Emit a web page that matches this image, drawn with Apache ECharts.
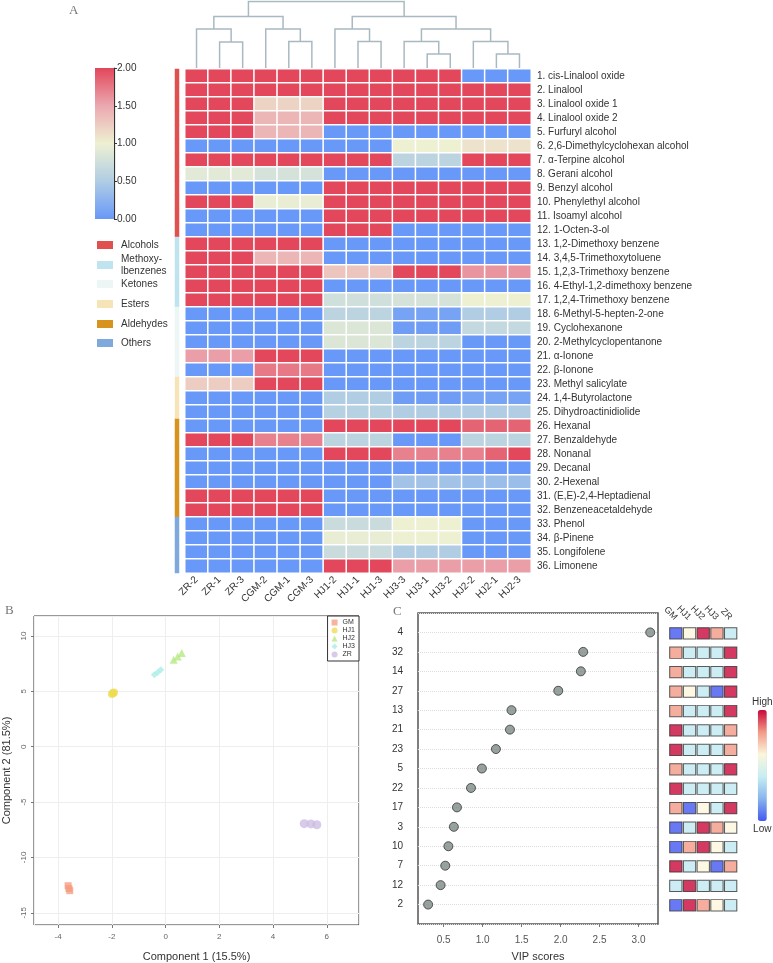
<!DOCTYPE html>
<html><head><meta charset="utf-8">
<script src="https://cdn.jsdelivr.net/npm/echarts@6/dist/echarts.min.js"></script>
<style>html,body{margin:0;padding:0;background:#fff}#c{width:773px;height:963px}</style>
</head><body><div id="c"></div>
<script>
// ---------- Panel A data ----------
const samples = ['ZR-2','ZR-1','ZR-3','CGM-2','CGM-1','CGM-3','HJ1-2','HJ1-1','HJ1-3','HJ3-3','HJ3-1','HJ3-2','HJ2-2','HJ2-1','HJ2-3'];
const compounds = ['1. cis-Linalool oxide','2. Linalool','3. Linalool oxide 1','4. Linalool oxide 2','5. Furfuryl alcohol',
 '6. 2,6-Dimethylcyclohexan alcohol','7. α-Terpine alcohol','8. Gerani alcohol','9. Benzyl alcohol','10. Phenylethyl alcohol',
 '11. Isoamyl alcohol','12. 1-Octen-3-ol','13. 1,2-Dimethoxy benzene','14. 3,4,5-Trimethoxytoluene','15. 1,2,3-Trimethoxy benzene',
 '16. 4-Ethyl-1,2-dimethoxy benzene','17. 1,2,4-Trimethoxy benzene','18. 6-Methyl-5-hepten-2-one','19. Cyclohexanone',
 '20. 2-Methylcyclopentanone','21. α-Ionone','22. β-Ionone','23. Methyl salicylate','24. 1,4-Butyrolactone',
 '25. Dihydroactinidiolide','26. Hexanal','27. Benzaldehyde','28. Nonanal','29. Decanal','30. 2-Hexenal',
 '31. (E,E)-2,4-Heptadienal','32. Benzeneacetaldehyde','33. Phenol','34. β-Pinene','35. Longifolene','36. Limonene'];
const heatValues = [
 [2,2,2,2,2,2,2,2,2,2,2,2,0,0,0],
 [2,2,2,2,2,2,2,2,2,2,2,2,2,2,2],
 [2,2,2,1.2,1.2,1.2,2,2,2,2,2,2,2,2,2],
 [2,2,2,1.4,1.4,1.4,2,2,2,2,2,2,2,2,2],
 [2,2,2,1.4,1.4,1.4,0,0,0,0,0,0,0,0,0],
 [0,0,0,0,0,0,0,0,0,1.0,1.0,1.0,1.1,1.1,1.1],
 [2,2,2,2,2,2,2,2,2,0.6,0.6,0.6,2,2,2],
 [0.9,0.9,0.9,0.8,0.8,0.8,0,0,0,0,0,0,0,0,0],
 [0,0,0,0,0,0,2,2,2,2,2,2,2,2,2],
 [2,2,2,0.95,0.95,0.95,2,2,2,2,2,2,2,2,2],
 [0,0,0,0,0,0,2,2,2,2,2,2,2,2,2],
 [0,0,0,0,0,0,2,2,2,0,0,0,0,0,0],
 [2,2,2,2,2,2,0,0,0,0,0,0,0,0,0],
 [2,2,2,1.4,1.4,1.4,0,0,0,0,0,0,0,0,0],
 [2,2,2,2,2,2,1.3,1.3,1.3,2,2,2,1.6,1.6,1.6],
 [2,2,2,2,2,2,0,0,0,0,0,0,0,0,0],
 [2,2,2,2,2,2,0.75,0.75,0.75,0.8,0.8,0.8,1.0,1.0,1.0],
 [0,0,0,0,0,0,0.6,0.6,0.6,0.1,0.1,0.1,0.5,0.5,0.5],
 [0,0,0,0,0,0,0.85,0.85,0.85,0.05,0.05,0.05,0.65,0.65,0.65],
 [0,0,0,0,0,0,0.85,0.85,0.85,0.6,0.6,0.6,0,0,0],
 [1.55,1.55,1.55,2,2,2,0,0,0,0,0,0,0,0,0],
 [0,0,0,1.75,1.75,1.75,0,0,0,0,0,0,0,0,0],
 [1.25,1.25,1.25,2,2,2,0,0,0,0,0,0,0,0,0],
 [0,0,0,0,0,0,0.5,0.5,0.5,0.05,0.05,0.05,0.1,0.1,0.1],
 [0,0,0,0,0,0,0.55,0.55,0.55,0.5,0.5,0.5,0.5,0.5,0.5],
 [0,0,0,0,0,0,2,2,2,2,2,2,1.85,1.85,1.85],
 [2,2,2,1.7,1.7,1.7,0.6,0.6,0.6,0,0,0,0.6,0.6,0.6],
 [0,0,0,0,0,0,2,2,2,1.7,1.7,1.7,1.7,1.85,2],
 [0,0,0,0,0,0,0,0,0,0,0,0,0,0,0],
 [0,0,0,0,0,0,0,0,0,0.4,0.4,0.4,0.35,0.35,0.35],
 [2,2,2,2,2,2,0,0,0,0,0,0,0,0,0],
 [2,2,2,2,2,2,0,0,0,0,0,0,0,0,0],
 [0,0,0,0,0,0,0.7,0.7,0.7,1.0,1.0,1.0,0,0,0],
 [0,0,0,0,0,0,0.95,0.95,0.95,1.0,1.0,1.0,0,0,0],
 [0,0,0,0,0,0,0.7,0.7,0.7,0.5,0.5,0.5,0,0,0],
 [0,0,0,0,0,0,2,2,2,1.55,1.55,1.55,1.55,1.55,1.55]
];
const groupNames = ['Alcohols','Methoxy-\nlbenzenes','Ketones','Esters','Aldehydes','Others'];
const groupOfRow = [0,0,0,0,0,0,0,0,0,0,0,0,1,1,1,1,1,2,2,2,2,2,3,3,3,4,4,4,4,4,4,4,5,5,5,5];
const groupColors = ['#e0504f','#bfe3ef','#ecf7f5','#f6e4b6','#d8921e','#7fa8dc'];
// dendrogram linkage: [nodeA, nodeB, height]; leaves 0..14, merged nodes numbered from 15
const dendroLinkage = [
 [1,2,26],[0,15,39],[4,5,26.5],[3,17,39],[16,18,51.5],
 [7,8,26.5],[6,20,39],[10,11,14],[9,22,26.5],[13,14,14],[12,24,26.5],[23,25,39],[21,26,51.5],[19,27,66.5]
];
const colorbarMin = 0, colorbarMax = 2;

// ---------- Panel B data ----------
const pcaGroups = ['GM','HJ1','HJ2','HJ3','ZR'];
const pcaGM  = [[-3.63,-12.55],[-3.6,-12.8],[-3.57,-13.0]];
const pcaHJ1 = [[-2.0,4.75],[-1.96,4.85],[-1.92,4.9]];
const pcaHJ2 = [[0.3,7.85],[0.45,8.15],[0.6,8.45]];
const pcaHJ3 = [[-0.42,6.5],[-0.3,6.7],[-0.18,6.95]];
const pcaZR  = [[5.16,-6.95],[5.41,-6.97],[5.63,-7.05]];

// ---------- Panel C data ----------
const vipCompounds = ['4','32','14','27','13','21','23','5','22','17','3','10','7','12','2'];
const vipScores = [3.15,2.29,2.26,1.97,1.37,1.35,1.17,0.99,0.85,0.67,0.63,0.56,0.52,0.46,0.3];
const profileGroups = ['GM','HJ1','HJ2','HJ3','ZR'];
const profileValues = [
 [0,0.6,1,0.8,0.38],
 [0.8,0.38,0.38,0.38,1],
 [0.8,0.38,0.38,0.38,1],
 [0.8,0.6,0.38,0,1],
 [0.8,0.38,0.38,0.38,1],
 [1,0.38,0.38,0.38,0.8],
 [1,0.38,0.38,0.38,0.8],
 [0.8,0.38,0.38,0.38,1],
 [1,0.38,0.38,0.38,0.38],
 [0.8,0,0.6,0.38,1],
 [0,0.38,1,0.8,0.6],
 [0,0.8,1,0.6,0.38],
 [1,0.38,0.6,0,0.8],
 [0.38,1,0.38,0.38,0.38],
 [0,1,0.8,0.6,0.38]
];

// ---------- build ----------
const heatColors = ['#6898f8','#b0cde4','#eef0d2','#eba8b0','#e2475b'];
const heatData = [];
heatValues.forEach((row, r) => row.forEach((v, c) => heatData.push([c, r, v])));
const sideData = groupOfRow.map((g, r) => [0, r, g]);

const leafPos = samples.map((_, i) => ({x: i, h: 0}));
const dendroLines = [];
dendroLinkage.forEach(([a, b, h]) => {
  const A = leafPos[a], B = leafPos[b];
  dendroLines.push({coords: [[A.x, A.h], [A.x, h], [B.x, h], [B.x, B.h]]});
  leafPos.push({x: (A.x + B.x) / 2, h: h});
});

const profileData = [];
profileValues.forEach((row, r) => row.forEach((v, c) => profileData.push([c, r, v])));

const pcaSets = [pcaGM, pcaHJ1, pcaHJ2, pcaHJ3, pcaZR];
const pcaColors = ['#f59a7e','#eedb4e','#b2e87a','#a6ece4','#c9b9e2'];
const pcaSymbols = ['rect','circle','triangle','diamond','circle'];
const pcaSizes = [7,8,8,7,9];

const FONT = 'Liberation Sans, Arial, sans-serif';
const SERIF = 'Liberation Serif, Times New Roman, serif';

const legendGraphics = [];
const legendY = [245, 265, 284, 304, 324, 343];
groupNames.forEach((n, i) => {
  legendGraphics.push({type:'rect', left:97, top:legendY[i]-4, shape:{width:16, height:8}, style:{fill:groupColors[i]}, silent:true});
  const lines = n.split('\n');
  legendGraphics.push({type:'text', left:121, top:legendY[i] - lines.length*6, style:{text:n, fontSize:10, lineHeight:12, fill:'#333', fontFamily:FONT}, silent:true});
});

const option = {
  animation: false,
  textStyle: {fontFamily: FONT},
  graphic: [
    {type:'text', left:69, top:4, style:{text:'A', fontSize:13, fill:'#777', fontFamily:SERIF}},
    {type:'text', left:5, top:604, style:{text:'B', fontSize:13, fill:'#777', fontFamily:SERIF}},
    {type:'text', left:393, top:605, style:{text:'C', fontSize:13, fill:'#777', fontFamily:SERIF}},
    ...legendGraphics
  ],
  grid: [
    {left:185, top:1, width:346, height:67},
    {left:185, top:69, width:346, height:504},
    {left:175, top:69, width:4, height:504},
    {left:95, top:68, width:19, height:151},
    {left:34, top:616, width:325, height:310, show:true, borderColor:'#333', borderWidth:1, backgroundColor:'#fff'},
    {left:418, top:613, width:240, height:311, show:true, borderColor:'#555', borderWidth:1.5},
    {left:669, top:623.6, width:68.5, height:291.4}
  ],
  xAxis: [
    {gridIndex:0, type:'value', min:-0.5, max:samples.length-0.5, show:false},
    {gridIndex:1, type:'category', data:samples, position:'bottom', axisLine:{show:false}, axisTick:{show:false},
      axisLabel:{rotate:45, fontSize:10, color:'#333', margin:5, interval:0}},
    {gridIndex:2, type:'category', data:['g'], show:false},
    {gridIndex:3, type:'category', data:[''], show:false},
    {gridIndex:4, type:'value', min:-4.9, max:7.2, splitNumber:5,
      name:'Component 1 (15.5%)', nameLocation:'middle', nameGap:26, nameTextStyle:{fontSize:11, color:'#333'},
      axisLine:{show:false, onZero:false}, axisTick:{show:true, length:3, lineStyle:{color:'#777'}},
      axisLabel:{fontSize:8, color:'#666', margin:8, showMinLabel:false, showMaxLabel:false},
      splitLine:{show:true, lineStyle:{color:'#eeeeee'}}},
    {gridIndex:5, type:'value', min:0.17, max:3.25, splitNumber:5,
      name:'VIP scores', nameLocation:'middle', nameGap:27, nameTextStyle:{fontSize:11, color:'#333'},
      axisLine:{show:false, onZero:false}, axisTick:{show:true, length:3, lineStyle:{color:'#777'}},
      axisLabel:{fontSize:10, color:'#555', margin:11, showMinLabel:false, showMaxLabel:false, formatter: v => v.toFixed(1)},
      splitLine:{show:false}},
    {gridIndex:6, type:'category', data:profileGroups, position:'top', axisLine:{show:false}, axisTick:{show:false},
      axisLabel:{rotate:45, fontSize:9, color:'#333', margin:5, interval:0}}
  ],
  yAxis: [
    {gridIndex:0, type:'value', min:0, max:67, show:false},
    {gridIndex:1, type:'category', data:compounds, inverse:true, position:'right', axisLine:{show:false}, axisTick:{show:false},
      axisLabel:{fontSize:10, color:'#333', margin:6, interval:0}},
    {gridIndex:2, type:'category', data:compounds, inverse:true, show:false},
    {gridIndex:3, type:'value', min:colorbarMin, max:colorbarMax, interval:0.5, position:'right',
      axisLine:{show:true, lineStyle:{color:'#333', width:1.2}}, axisTick:{show:true, length:3, lineStyle:{color:'#333'}},
      axisLabel:{fontSize:10, color:'#333', margin:3, formatter: v => v.toFixed(2)}, splitLine:{show:false}},
    {gridIndex:4, type:'value', min:-16.1, max:11.8, splitNumber:5,
      name:'Component 2 (81.5%)', nameLocation:'middle', nameGap:22, nameTextStyle:{fontSize:11, color:'#333'},
      axisLine:{show:false, onZero:false}, axisTick:{show:true, length:3, lineStyle:{color:'#777'}},
      axisLabel:{fontSize:8, color:'#666', margin:6, rotate:90, showMinLabel:false, showMaxLabel:false},
      splitLine:{show:true, lineStyle:{color:'#eeeeee'}}},
    {gridIndex:5, type:'value', min:-1, max:vipCompounds.length, interval:1, inverse:true,
      axisLine:{show:false, onZero:false}, axisTick:{show:false},
      axisLabel:{fontSize:10, color:'#333', margin:15,
        formatter: v => (v >= 0 && v < vipCompounds.length) ? vipCompounds[v] : ''},
      splitLine:{show:true, lineStyle:{color:'#dddddd', type:'dotted'}}},
    {gridIndex:6, type:'category', data:vipCompounds, inverse:true, show:false}
  ],
  visualMap: [
    {type:'continuous', seriesIndex:1, dimension:2, min:colorbarMin, max:colorbarMax, show:false, inRange:{color:heatColors}},
    {type:'piecewise', seriesIndex:2, dimension:2, show:false,
      pieces: groupColors.map((c, i) => ({value:i, color:c}))},
    {type:'continuous', seriesIndex:10, dimension:2, min:0, max:1, show:true, calculable:false, hoverLink:false,
      left:752, top:697, padding:0, itemWidth:9, itemHeight:111, text:['High','Low'], textGap:3,
      textStyle:{fontSize:10, color:'#333'},
      inRange:{color:['#4458f0','#88b4ee','#c6eef2','#fbf6dc','#f39a86','#c8083a']}}
  ],
  legend: {
    data: pcaGroups, orient:'vertical', right:414, top:616, padding:[3,4,3,4], itemGap:1,
    itemWidth:6, itemHeight:6, borderColor:'#333', borderWidth:1, backgroundColor:'#fff',
    textStyle:{fontSize:7, color:'#333'}
  },
  series: [
    {type:'lines', coordinateSystem:'cartesian2d', xAxisIndex:0, yAxisIndex:0, polyline:true, silent:true,
      lineStyle:{color:'#a9b9c1', width:1.5, opacity:1}, data:dendroLines},
    {type:'heatmap', xAxisIndex:1, yAxisIndex:1, data:heatData, silent:true,
      itemStyle:{borderColor:'#fff', borderWidth:1.5}},
    {type:'heatmap', xAxisIndex:2, yAxisIndex:2, data:sideData, silent:true},
    {type:'bar', xAxisIndex:3, yAxisIndex:3, data:[colorbarMax], barWidth:'100%', silent:true,
      itemStyle:{color:new echarts.graphic.LinearGradient(0,1,0,0,
        heatColors.map((c, i) => ({offset:i/(heatColors.length-1), color:c})))}},
    ...pcaSets.map((d, i) => ({
      type:'scatter', name:pcaGroups[i], xAxisIndex:4, yAxisIndex:4, data:d,
      symbol:pcaSymbols[i], symbolSize:pcaSizes[i], itemStyle:{color:pcaColors[i], opacity:0.75}
    })),
    {type:'scatter', xAxisIndex:5, yAxisIndex:5, data:vipScores.map((v, i) => [v, i]),
      symbolSize:9, itemStyle:{color:'#7d8b83', borderColor:'#333', borderWidth:1}},
    {type:'scatter', xAxisIndex:6, yAxisIndex:6, data:profileData, symbol:'rect', symbolSize:[12.3, 11.3],
      itemStyle:{borderColor:'#333', borderWidth:1}}
  ]
};
const chart = echarts.init(document.getElementById('c'), null, {renderer:'canvas'});
chart.setOption(option);
</script></body></html>
